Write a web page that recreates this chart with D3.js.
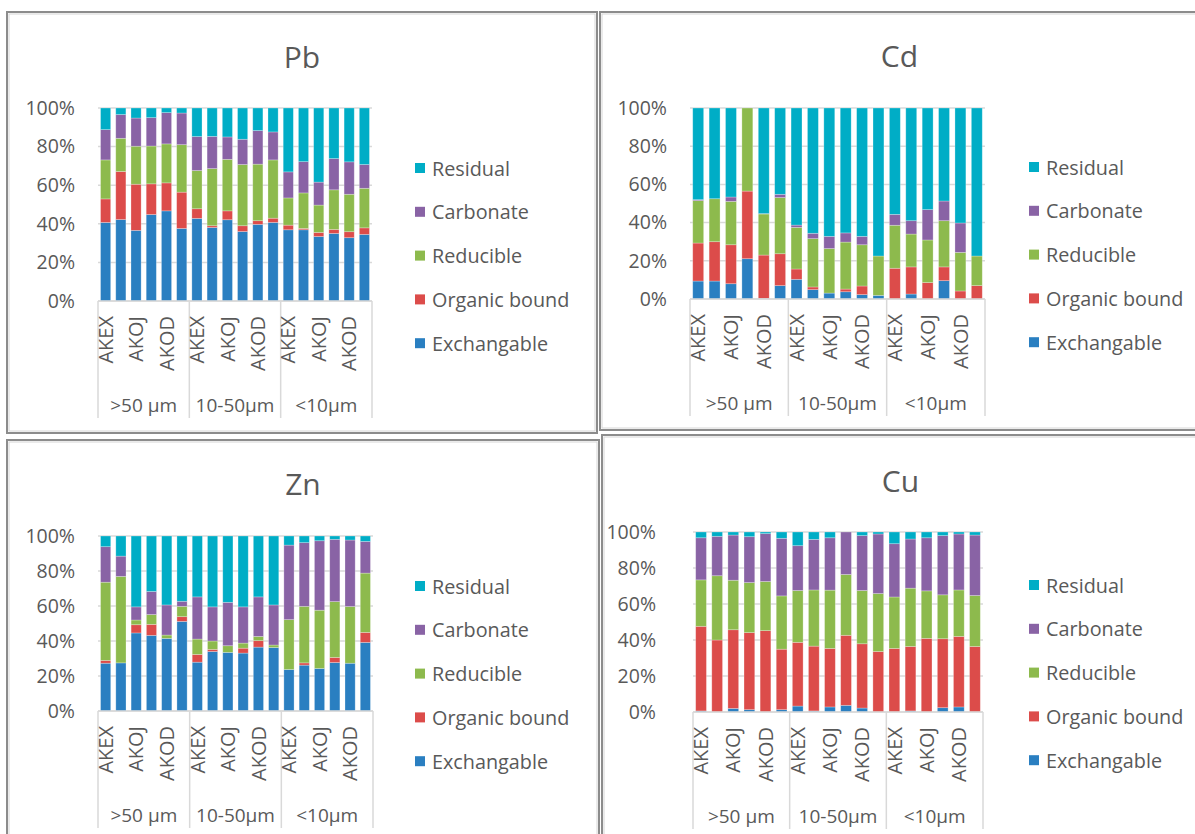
<!DOCTYPE html>
<html>
<head>
<meta charset="UTF-8">
<title>Metal fractions</title>
<script src="https://d3js.org/d3.v7.min.js"></script>
<style>
  body { margin: 0; background: #fff; }
  svg text { font-family: "Open Sans", sans-serif; fill: #595959; }
</style>
</head>
<body>
<div id="chart"></div>
<script>
// stack order, bottom to top
var fractions = ["Exchangable", "Organic bound", "Reducible", "Carbonate", "Residual"];
var colors = ["#2a7fc1", "#dc4c4a", "#8dba4d", "#8963a5", "#00adc6"];
var sizeGroups = [">50 µm", "10-50µm", "<10µm"];
// six samples per size group, Excel only shows every other label
var siteLabels = ["AKEX", "", "AKOJ", "", "AKOD", ""];
var yTicks = [0, 0.2, 0.4, 0.6, 0.8, 1];

// Pb (%)
var pbExch  = [40.7, 42.2, 36.6, 44.8, 46.7, 37.6, 42.8, 38.1, 42.1, 36.0, 39.7, 40.7, 36.9, 36.9, 33.4, 35.0, 32.8, 34.5];
var pbOrg   = [12.2, 24.9, 23.9, 15.9, 14.5, 18.8, 5.0, 0.9, 4.6, 3.0, 1.9, 2.2, 2.4, 0.7, 2.1, 2.1, 3.1, 3.4];
var pbRed   = [20.2, 17.2, 19.7, 19.6, 20.2, 24.6, 19.8, 29.6, 26.7, 31.7, 29.3, 30.2, 14.1, 18.4, 14.2, 20.5, 19.4, 20.5];
var pbCarb  = [15.7, 12.3, 14.6, 14.7, 16.2, 16.4, 17.6, 16.7, 11.6, 13.1, 17.4, 14.5, 13.5, 16.2, 11.9, 16.2, 16.8, 12.3];
var pbRes   = [11.2, 3.4, 5.2, 5.0, 2.4, 2.6, 14.8, 14.7, 15.0, 16.2, 11.7, 12.4, 33.1, 27.8, 38.4, 26.2, 27.9, 29.3];

// Cd (%)
var cdExch  = [9.4, 9.4, 8.0, 21.1, 0.3, 7.0, 10.3, 4.9, 3.1, 3.8, 2.3, 1.9, 0, 2.6, 0, 9.6, 0, 0];
var cdOrg   = [19.9, 20.6, 20.4, 35.4, 22.7, 16.7, 5.4, 1.4, 0, 1.4, 4.5, 0, 16.1, 14.2, 8.6, 7.2, 4.2, 7.0];
var cdRed   = [22.2, 22.5, 22.7, 43.5, 21.5, 29.4, 21.8, 25.3, 23.3, 24.6, 21.6, 20.6, 22.5, 17.2, 22.3, 24.2, 20.2, 15.5];
var cdCarb  = [0.5, 0, 2.3, 0, 0.2, 1.7, 1.2, 2.8, 6.4, 4.8, 4.4, 0, 5.7, 7.0, 15.9, 10.3, 15.4, 0];
var cdRes   = [48.0, 47.5, 46.6, 0, 55.3, 45.2, 61.3, 65.6, 67.2, 65.4, 67.2, 77.5, 55.7, 59.0, 53.2, 48.7, 60.2, 77.5];

// Zn (%)
var znExch  = [27.3, 27.5, 44.6, 43.2, 41.5, 51.2, 27.9, 34.0, 33.5, 33.1, 36.5, 36.3, 23.7, 26.2, 24.3, 27.7, 27.3, 39.2];
var znOrg   = [1.6, 0, 4.7, 6.3, 0, 2.7, 4.4, 1.2, 0, 2.8, 3.7, 0, 0, 1.3, 0, 2.9, 0, 5.7];
var znRed   = [44.7, 49.4, 2.7, 5.6, 1.9, 5.9, 8.8, 4.8, 3.8, 2.9, 2.4, 1.4, 28.5, 32.3, 33.3, 31.9, 32.4, 33.9];
var znCarb  = [20.3, 11.6, 7.5, 13.2, 17.2, 2.9, 24.1, 19.5, 24.8, 20.7, 22.6, 22.9, 42.6, 36.4, 39.7, 35.6, 38.0, 18.1];
var znRes   = [6.1, 11.5, 40.5, 31.7, 39.4, 37.3, 34.8, 40.5, 37.9, 40.5, 34.8, 39.4, 5.2, 3.8, 2.7, 1.9, 2.3, 3.1];

// Cu (%)
var cuExch  = [0.6, 0, 2.0, 1.3, 0, 1.3, 3.3, 0.6, 2.8, 3.7, 2.2, 0, 0, 0.6, 0, 2.4, 2.8, 0];
var cuOrg   = [47.0, 40.0, 43.7, 42.8, 45.2, 33.6, 35.4, 36.0, 32.5, 38.9, 35.7, 33.6, 35.3, 35.8, 40.9, 38.3, 39.2, 36.4];
var cuRed   = [25.8, 35.7, 27.5, 27.8, 27.3, 29.6, 28.8, 31.2, 32.4, 33.8, 29.6, 32.2, 28.6, 32.4, 26.4, 24.4, 25.8, 28.3];
var cuCarb  = [23.4, 21.9, 25.1, 25.5, 26.6, 32.0, 24.9, 28.1, 29.1, 23.6, 30.5, 33.1, 29.6, 27.3, 29.5, 32.9, 31.1, 33.6];
var cuRes   = [3.2, 2.4, 1.7, 2.6, 0.9, 3.5, 7.6, 4.1, 3.2, 0, 2.0, 1.1, 6.5, 3.9, 3.2, 2.0, 1.1, 1.7];

var W = 1195, H = 834;

var svg = d3.select("#chart").append("svg")
  .attr("width", W)
  .attr("height", H);

var panels = [
  { title: "Pb", series: [pbExch, pbOrg, pbRed, pbCarb, pbRes],
    box: [7, 12, 597, 433], plot: [98, 108, 372, 301], tickRight: 75,
    titleY: 56, legX: 415, legY: 168 },
  { title: "Cd", series: [cdExch, cdOrg, cdRed, cdCarb, cdRes],
    box: [600, 12, 1199, 430], plot: [690, 108, 985, 299], tickRight: 667,
    titleY: 55, legX: 1029, legY: 167 },
  { title: "Zn", series: [znExch, znOrg, znRed, znCarb, znRes],
    box: [7, 440, 599, 838], plot: [98, 536, 373, 711], tickRight: 75,
    titleY: 483, legX: 415, legY: 586 },
  { title: "Cu", series: [cuExch, cuOrg, cuRed, cuCarb, cuRes],
    box: [602, 435, 1199, 838], plot: [693, 532, 983, 712], tickRight: 656,
    titleY: 480, legX: 1029, legY: 585 }
];

panels.forEach(function(p) {
  var g = svg.append("g");

  // frame (double grey line like the Excel export)
  g.append("rect")
    .attr("x", p.box[0]).attr("y", p.box[1])
    .attr("width", p.box[2] - p.box[0]).attr("height", p.box[3] - p.box[1])
    .attr("fill", "#fff").attr("stroke", "#8c8c8c").attr("stroke-width", 2);
  g.append("rect")
    .attr("x", p.box[0] + 2).attr("y", p.box[1] + 2)
    .attr("width", p.box[2] - p.box[0] - 4).attr("height", p.box[3] - p.box[1] - 4)
    .attr("fill", "none").attr("stroke", "#d6d6d6").attr("stroke-width", 1);

  // title
  g.append("text")
    .attr("x", (p.box[0] + p.box[2]) / 2)
    .attr("y", p.titleY)
    .attr("text-anchor", "middle")
    .attr("dominant-baseline", "central")
    .style("font-size", "30px")
    .text(p.title);

  // rows for the stack
  var rows = d3.range(18).map(function(i) {
    var r = { idx: i };
    fractions.forEach(function(f, k) { r[f] = p.series[k][i]; });
    return r;
  });

  var x = d3.scaleBand()
    .domain(d3.range(18))
    .range([p.plot[0], p.plot[2]])
    .paddingInner(1 / 3)
    .paddingOuter(1 / 6);

  var y = d3.scaleLinear()
    .domain([0, 1])
    .range([p.plot[3], p.plot[1]]);

  // gridlines
  g.selectAll(".grid")
    .data(yTicks)
    .enter().append("line")
      .attr("x1", p.plot[0]).attr("x2", p.plot[2])
      .attr("y1", function(d) { return y(d); })
      .attr("y2", function(d) { return y(d); })
      .attr("stroke", "#d9d9d9")
      .attr("stroke-width", 1.5);

  // y axis labels
  var yAxis = g.append("g")
    .attr("transform", "translate(" + p.tickRight + ",0)")
    .call(d3.axisLeft(y).tickValues(yTicks).tickFormat(d3.format(".0%")).tickSize(0).tickPadding(0));
  yAxis.select(".domain").remove();
  yAxis.selectAll("text")
    .style("font-size", "19.5px")
    .attr("fill", "#595959");

  // stacked bars, 100% stacked
  var stacked = d3.stack()
    .keys(fractions)
    .offset(d3.stackOffsetExpand)(rows);

  g.selectAll(".layer")
    .data(stacked)
    .enter().append("g")
      .attr("fill", function(d, i) { return colors[i]; })
    .selectAll("rect")
    .data(function(d) { return d; })
    .enter().append("rect")
      .attr("x", function(d) { return x(d.data.idx); })
      .attr("width", x.bandwidth())
      .attr("y", function(d) { return y(d[1]); })
      .attr("height", function(d) { return y(d[0]) - y(d[1]); })
      .attr("stroke", "#ffffff")
      .attr("stroke-opacity", 0.35)
      .attr("stroke-width", 0.75);

  // category axis
  var step = x.step();
  var sepLen = 117;
  g.append("line")
    .attr("x1", p.plot[0]).attr("x2", p.plot[2])
    .attr("y1", p.plot[3]).attr("y2", p.plot[3])
    .attr("stroke", "#d9d9d9").attr("stroke-width", 1.5);

  g.selectAll(".sep")
    .data(d3.range(4))
    .enter().append("line")
      .attr("x1", function(d) { return p.plot[0] + d * 6 * step; })
      .attr("x2", function(d) { return p.plot[0] + d * 6 * step; })
      .attr("y1", p.plot[3])
      .attr("y2", p.plot[3] + sepLen)
      .attr("stroke", "#d9d9d9").attr("stroke-width", 1.5);

  g.selectAll(".site")
    .data(rows.filter(function(r) { return siteLabels[r.idx % 6] !== ""; }))
    .enter().append("text")
      .attr("transform", function(r) {
        return "translate(" + (x(r.idx) + x.bandwidth() / 2) + "," + (p.plot[3] + 15) + ") rotate(-90)";
      })
      .attr("text-anchor", "end")
      .attr("dy", "0.36em")
      .style("font-size", "20px")
      .text(function(r) { return siteLabels[r.idx % 6]; });

  g.selectAll(".grp")
    .data(sizeGroups)
    .enter().append("text")
      .attr("x", function(d, i) { return p.plot[0] + (i * 6 + 3) * step; })
      .attr("y", p.plot[3] + 104)
      .attr("text-anchor", "middle")
      .attr("dominant-baseline", "central")
      .style("font-size", "19px")
      .text(function(d) { return d; });

  // legend, top entry is Residual
  var leg = g.selectAll(".leg")
    .data(fractions.slice().reverse())
    .enter().append("g")
      .attr("transform", function(d, i) { return "translate(" + p.legX + "," + (p.legY + i * 43.8) + ")"; });
  leg.append("rect")
    .attr("x", 0).attr("y", -5)
    .attr("width", 10).attr("height", 10)
    .attr("fill", function(d) { return colors[fractions.indexOf(d)]; });
  leg.append("text")
    .attr("x", 17)
    .attr("dominant-baseline", "central")
    .style("font-size", "19.8px")
    .text(function(d) { return d; });
});
</script>
</body>
</html>
